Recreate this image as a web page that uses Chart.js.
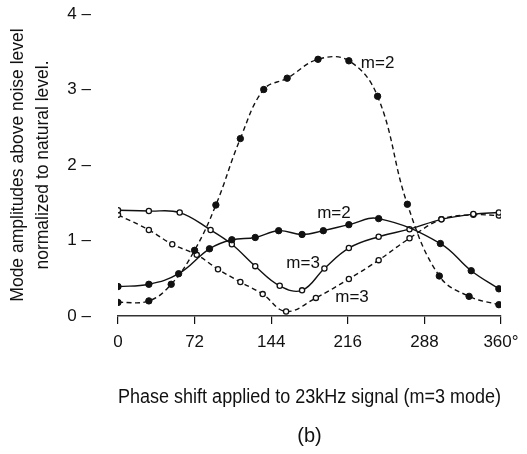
<!DOCTYPE html>
<html><head><meta charset="utf-8">
<script src="https://cdn.jsdelivr.net/npm/chart.js@4/dist/chart.umd.min.js"></script>
<style>html,body{margin:0;padding:0;background:#fff}#wrap{width:527px;height:454px;position:relative}</style>
</head><body><div id="wrap"><canvas id="c"></canvas></div>
<script>
// Tick values
const xTicks = [0, 72, 144, 216, 288, 360];
const yTicks = [0, 1, 2, 3, 4];

// m=2, dashed line, filled dots
const m2DashPhase = [0, 29, 50, 72, 92, 115, 137, 159, 188, 217, 244, 272, 302, 330, 358];
const m2DashAmp   = [0.18, 0.20, 0.42, 0.87, 1.47, 2.35, 3.00, 3.15, 3.40, 3.38, 2.91, 1.48, 0.53, 0.26, 0.15];

// m=2, solid line, filled dots
const m2SolidPhase = [0, 29, 57, 86, 107, 129, 151, 173, 193, 217, 245, 303, 332, 358];
const m2SolidAmp   = [0.39, 0.42, 0.56, 0.89, 1.01, 1.04, 1.13, 1.08, 1.13, 1.21, 1.29, 0.96, 0.60, 0.36];

// m=3, solid line, open circles
const m3SolidPhase = [0, 29, 58, 87, 107, 129, 152, 173, 194, 217, 245, 274, 304, 334, 358];
const m3SolidAmp   = [1.40, 1.39, 1.37, 1.14, 0.95, 0.66, 0.40, 0.34, 0.63, 0.90, 1.05, 1.15, 1.28, 1.35, 1.37];

// m=3, dashed line, open circles
const m3DashPhase = [0, 29, 51, 74, 94, 115, 136, 158, 186, 217, 245, 274, 304, 334, 358];
const m3DashAmp   = [1.34, 1.14, 0.95, 0.81, 0.62, 0.45, 0.29, 0.06, 0.24, 0.49, 0.74, 1.03, 1.28, 1.34, 1.33];

// Curve labels
const curveLabels = ['m=2', 'm=2', 'm=3', 'm=3'];
const labelPhase  = [244, 203, 174, 220];
const labelAmp    = [3.35, 1.36, 0.70, 0.25];

const FONT = '"Liberation Sans", Arial, sans-serif';
const INK = '#111';

function pts(xs, ys) { return xs.map((x, i) => ({ x: x, y: ys[i] })); }

function series(xs, ys, dashed, filled) {
  return {
    data: pts(xs, ys),
    borderColor: INK,
    borderWidth: 1.4,
    borderDash: dashed ? [5, 3.5] : [],
    tension: 0.4,
    pointRadius: filled ? 3.2 : 2.6,
    pointBorderWidth: filled ? 1 : 1.3,
    pointBackgroundColor: filled ? INK : '#fff',
    pointBorderColor: INK,
    fill: false
  };
}

const labelPlugin = {
  id: 'curveLabels',
  afterDatasetsDraw(chart) {
    const ctx = chart.ctx, xs = chart.scales.x, ys = chart.scales.y;
    ctx.save();
    ctx.fillStyle = INK;
    ctx.font = '17px ' + FONT;
    ctx.textAlign = 'center';
    ctx.textBaseline = 'middle';
    curveLabels.forEach((t, i) => {
      ctx.fillText(t, xs.getPixelForValue(labelPhase[i]), ys.getPixelForValue(labelAmp[i]));
    });
    ctx.restore();
  }
};

new Chart(document.getElementById('c'), {
  type: 'line',
  data: {
    datasets: [
      series(m2DashPhase, m2DashAmp, true, true),
      series(m2SolidPhase, m2SolidAmp, false, true),
      series(m3SolidPhase, m3SolidAmp, false, false),
      series(m3DashPhase, m3DashAmp, true, false)
    ]
  },
  options: {
    responsive: true,
    maintainAspectRatio: false,
    animation: false,
    layout: { padding: { top: 14, right: 26, left: 0, bottom: 0 } },
    plugins: { legend: { display: false }, tooltip: { enabled: false } },
    scales: {
      x: {
        type: 'linear', min: 0, max: 360,
        afterBuildTicks: s => { s.ticks = xTicks.map(v => ({ value: v })); },
        afterFit: s => { s.height = 138; },
        grid: { display: true, drawOnChartArea: false, drawTicks: true, tickLength: 8, color: INK, lineWidth: 1.2 },
        border: { display: true, color: '#333', width: 1.5 },
        ticks: { color: INK, font: { family: FONT, size: 17 }, padding: 8, maxRotation: 0,
          callback: v => (v === 360 ? '360°' : String(v)) },
        title: { display: true, text: ['Phase shift applied to 23kHz signal (m=3 mode)', '', '(b)'],
          color: INK, font: { family: FONT, size: 20, lineHeight: 0.975 }, padding: { top: 0, bottom: 8 } }
      },
      y: {
        type: 'linear', min: 0, max: 4,
        afterBuildTicks: s => { s.ticks = yTicks.map(v => ({ value: v })); },
        afterFit: s => { s.width = 118; s.paddingTop = 0; s.paddingBottom = 0; },
        grid: { display: false },
        border: { display: false },
        ticks: { color: INK, font: { family: FONT, size: 17 }, padding: 19,
          callback: v => v + ' –' },
        title: { display: true, text: ['Mode amplitudes above noise level', 'normalized to natural level.'],
          color: INK, font: { family: FONT, size: 17.5, lineHeight: 1.43 }, padding: { top: 5.5, bottom: 0 } }
      }
    }
  },
  plugins: [labelPlugin]
});
</script>
</body></html>
